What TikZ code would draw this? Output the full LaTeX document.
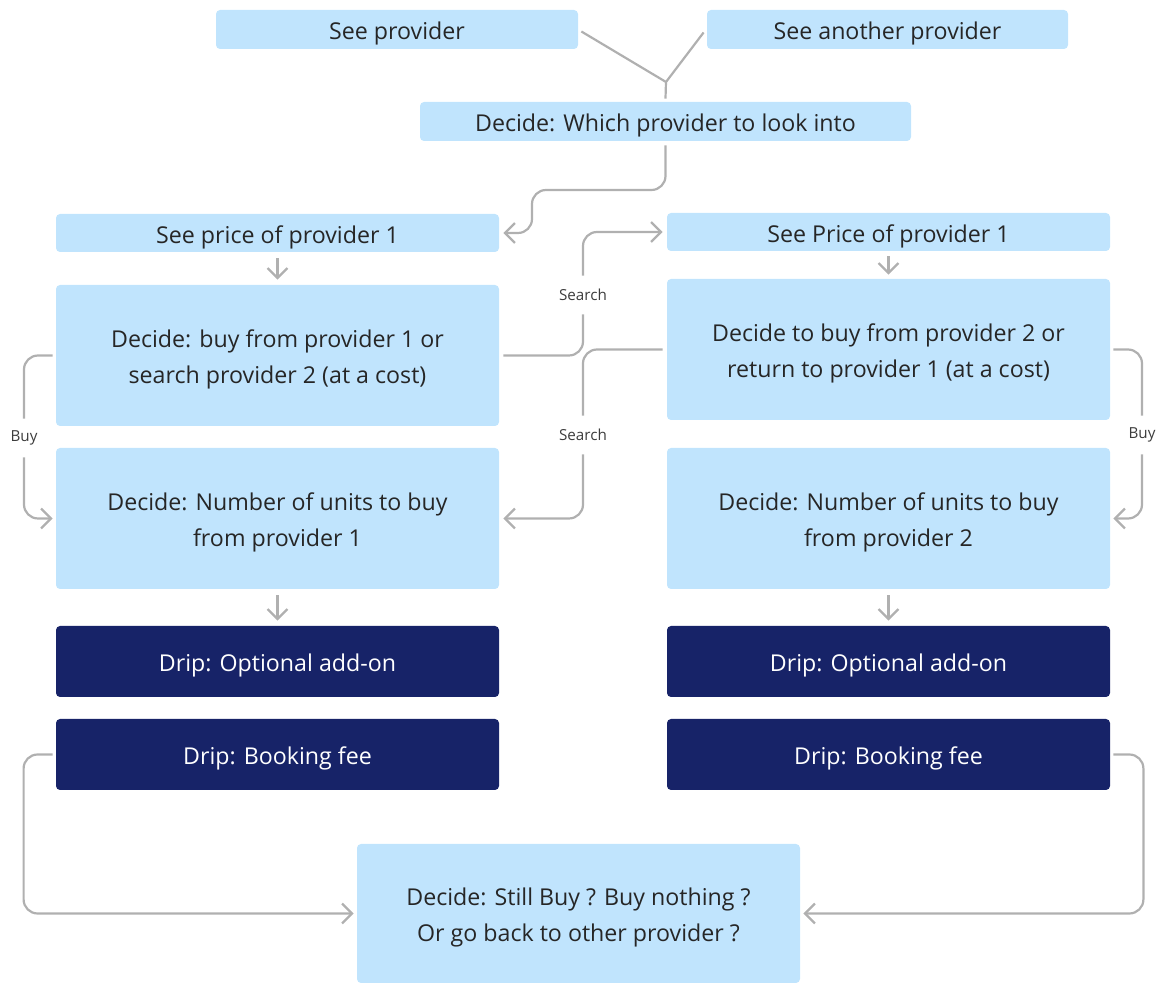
\documentclass[tikz,border=0pt]{standalone}
\usepackage{fontspec}
\setmainfont{Open Sans}
\usetikzlibrary{arrows.meta}
\definecolor{lblue}{HTML}{C0E4FD}
\definecolor{navy}{HTML}{172368}
\definecolor{conncol}{HTML}{B0B0B0}
\definecolor{txt}{HTML}{262626}
\definecolor{lbltxt}{HTML}{3C3C3C}
\newcommand{\dn}[1]{\raisebox{-2.1pt}[\height][\depth]{#1}}
\newcommand{\twol}[2]{\dn{\shortstack{#1\\[3.5pt]#2}}}
\tikzset{
  lbox/.style={fill=lblue, draw=none, rounded corners=2pt, text=txt, align=center, inner sep=0pt,
    font=\fontsize{11.6}{17.5}\selectfont},
  dbox/.style={fill=navy, draw=none, rounded corners=2pt, text=white, align=center, inner sep=0pt,
    font=\fontsize{11.6}{17.5}\selectfont},
  conn/.style={draw=conncol, line width=1.1pt, rounded corners=7pt},
  arr/.style={-{Straight Barb[length=5pt,width=10pt,line width=1.1pt]}},
  lbl/.style={text=lbltxt, font=\fontsize{7.6}{8}\selectfont, inner sep=0pt, minimum height=19pt}
}
\begin{document}
\begin{tikzpicture}[x=0.5pt,y=-0.5pt]
\useasboundingbox (0,0) rectangle (1164,983);
% nodes
\node[lbox, minimum width=181pt, minimum height=19.5pt] (A) at (397,29.5) {\dn{See provider}};
\node[lbox, minimum width=180.5pt, minimum height=19.5pt] (B) at (887.5,29.5) {\dn{See another provider}};
\node[lbox, minimum width=245.5pt, minimum height=19.5pt] (C) at (665.5,121.5) {\dn{Decide: Which provider to look into}};
\node[lbox, minimum width=221.5pt, minimum height=19pt] (D) at (277.5,233) {\dn{See price of provider 1}};
\node[lbox, minimum width=221.5pt, minimum height=19pt] (E) at (888.5,232) {\dn{See Price of provider 1}};
\node[lbox, minimum width=221.5pt, minimum height=70.5pt] (F) at (277.5,355.5) {\twol{Decide: buy from provider 1 or}{search provider 2 (at a cost)}};
\node[lbox, minimum width=221.5pt, minimum height=70.5pt] (G) at (888.5,349.5) {\twol{Decide to buy from provider 2 or}{return to provider 1 (at a cost)}};
\node[lbox, minimum width=221.5pt, minimum height=70.5pt] (H) at (277.5,518.5) {\twol{Decide: Number of units to buy}{from provider 1}};
\node[lbox, minimum width=221.5pt, minimum height=70.5pt] (I) at (888.5,518.5) {\twol{Decide: Number of units to buy}{from provider 2}};
\node[dbox, minimum width=221.5pt, minimum height=35.5pt] (J) at (277.5,661.5) {\dn{Drip: Optional add-on}};
\node[dbox, minimum width=221.5pt, minimum height=35.5pt] (K) at (888.5,661.5) {\dn{Drip: Optional add-on}};
\node[dbox, minimum width=221.5pt, minimum height=35.5pt] (L) at (277.5,754.5) {\dn{Drip: Booking fee}};
\node[dbox, minimum width=221.5pt, minimum height=35.5pt] (M) at (888.5,754.5) {\dn{Drip: Booking fee}};
\node[lbox, minimum width=221.5pt, minimum height=69.5pt] (N) at (578.5,913.5) {\twol{Decide: Still Buy ? Buy nothing ?}{Or go back to other provider ?}};
% labels
\node[lbl] (s1) at (583,295) {Search};
\node[lbl] (s2) at (583,435) {Search};
\node[lbl] (b1) at (24,438) {Buy};
\node[lbl] (b2) at (1142,435) {Buy};
% connectors
\coordinate (j) at (666,82);
\draw[conn] ([xshift=1.5pt,yshift=-1pt]A.east) -- (j);
\draw[conn] ([xshift=-1.5pt,yshift=-1.5pt]B.west) -- (j);
\draw[conn] (j) -- ([yshift=1.5pt]C.north);
\draw[conn,arr] ([yshift=-2pt]C.south) -- (665.5,190) -- (532,190) -- (532,233) -- ([xshift=2pt]D.east);
\draw[conn,arr] ([yshift=-3pt]D.south) -- ([yshift=2.5pt]F.north);
\draw[conn,arr] ([yshift=-2.5pt]E.south) -- ([yshift=2pt]G.north);
\draw[conn,arr] ([yshift=-3pt]H.south) -- ([yshift=2.5pt]J.north);
\draw[conn,arr] ([yshift=-3pt]I.south) -- ([yshift=2.5pt]K.north);
\draw[conn] ([xshift=2pt]F.east) -| (s1.south);
\draw[conn,arr] (s1.north) |- ([xshift=-2pt]E.west);
\draw[conn] ([xshift=-2pt]G.west) -| (s2.north);
\draw[conn,arr] (s2.south) |- ([xshift=2pt]H.east);
\draw[conn] ([xshift=-1.5pt]F.west) -| (b1.north);
\draw[conn,arr] (b1.south) |- ([xshift=-1.5pt]H.west);
\draw[conn] ([xshift=1.5pt]G.east) -| (b2.north);
\draw[conn,arr] (b2.south) |- ([xshift=1.5pt]I.east);
\draw[conn,arr] ([xshift=-1.5pt]L.west) -- ++(-29,0) |- ([xshift=-1.5pt]N.west);
\draw[conn,arr] ([xshift=1.5pt]M.east) -- ++(30,0) |- ([xshift=1.5pt]N.east);
\end{tikzpicture}
\end{document}
